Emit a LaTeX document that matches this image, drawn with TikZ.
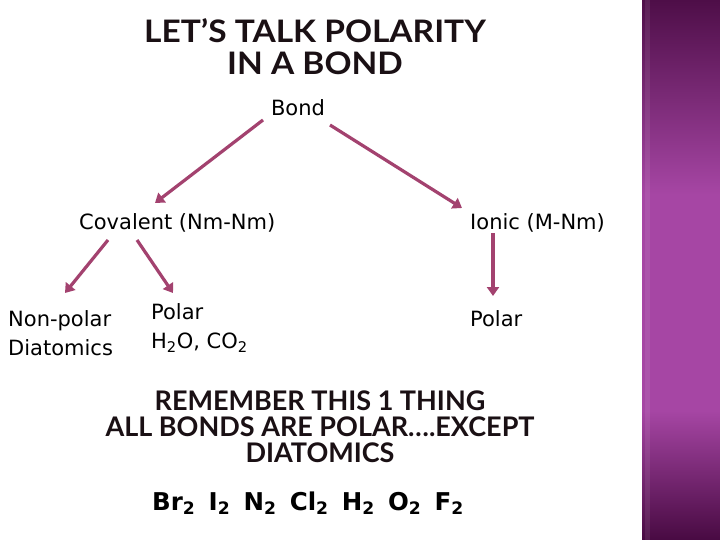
\documentclass[tikz,border=0pt]{standalone}
\usepackage{fontspec}
\setmainfont{DejaVu Sans}
\newfontfamily\titlefont[FakeStretch=1.08]{Lato}
\newfontfamily\remfont{Lato}
\usetikzlibrary{arrows.meta,calc}
\definecolor{arrowc}{HTML}{A3426F}
\definecolor{bandtop}{HTML}{4E0E48}
\definecolor{bandmid}{HTML}{A646A4}
\definecolor{bandbot}{HTML}{480A42}
\definecolor{titlec}{HTML}{1A1014}
\pgfdeclareverticalshading{bandshade}{100bp}{color(0bp)=(bandbot); color(25bp)=(bandbot); color(37bp)=(bandmid); color(57bp)=(bandmid); color(75bp)=(bandtop); color(100bp)=(bandtop)}
\tikzset{
  arr/.style={draw=arrowc, line width=3.2pt, -{Triangle[width=12pt,length=9pt]}, fill=arrowc},
  body/.style={inner sep=0pt, font=\fontsize{21}{29}\selectfont, text=black},
  ttl/.style={inner sep=0pt, font=\titlefont\bfseries\fontsize{31}{32}\selectfont, text=titlec, align=center},
  rem/.style={inner sep=0pt, font=\remfont\bfseries\fontsize{27}{26}\selectfont, text=titlec, align=center},
}
\begin{document}
\begin{tikzpicture}[x=1pt,y=-1pt]
\useasboundingbox (0,0) rectangle (720,540);
\fill[white] (0,0) rectangle (720,540);
\shade[shading=bandshade] (642,0) rectangle (720,540);
\fill[white, opacity=0.08] (645,0) rectangle (650,540);

\node[ttl] (title) at (315,47) {LET’S TALK POLARITY\\IN A BOND};
\node[body] (bond) at (298,108) {Bond};
\node[body, anchor=west] (cov) at (79,223) {Covalent (Nm-Nm)};
\node[body, anchor=west] (ion) at (470,223) {Ionic (M-Nm)};
\node[body, anchor=west, align=left] (np) at (8,333) {Non-polar\\Diatomics};
\node[body, anchor=west, align=left] (pol) at (151,328) {Polar\\H\textsubscript{2}O, CO\textsubscript{2}};
\node[body, anchor=west] (pol2) at (470,319) {Polar};
\node[rem] (rem) at (320,427) {REMEMBER THIS 1 THING\\ALL BONDS ARE POLAR….EXCEPT\\DIATOMICS};
\node[inner sep=0pt, font=\bfseries\fontsize{24.5}{28}\selectfont, anchor=west] (dia) at (152,503)
  {Br\textsubscript{2}\hspace{13.3pt}I\textsubscript{2}\hspace{13.3pt}N\textsubscript{2}\hspace{13.3pt}Cl\textsubscript{2}\hspace{13.3pt}H\textsubscript{2}\hspace{13.3pt}O\textsubscript{2}\hspace{13.3pt}F\textsubscript{2}};

\draw[arr] ($(bond)+(-35,12)$) -- ($(cov.west)+(76,-20)$);
\draw[arr] ($(bond)+(32,17)$) -- ($(ion.west)+(-8,-15)$);
\draw[arr] ($(cov.west)+(29,17)$) -- ($(np.west)+(57,-40)$);
\draw[arr] ($(cov.west)+(58,17)$) -- ($(pol.west)+(22,-35)$);
\draw[arr] ($(ion.west)+(23,10)$) -- ($(pol2.west)+(23,-23)$);
\end{tikzpicture}
\end{document}
